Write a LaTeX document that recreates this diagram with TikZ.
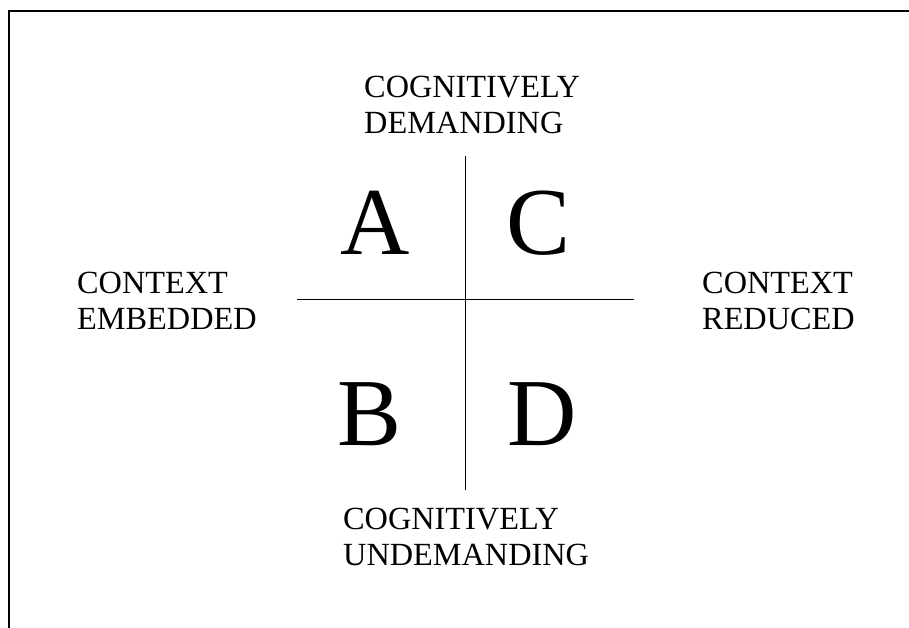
\documentclass[tikz,border=0pt]{standalone}
\usepackage{fontspec}
\setmainfont{Liberation Serif}
\usepackage{tikz}
\usetikzlibrary{positioning}

\begin{document}
\begin{tikzpicture}[
  x=1pt, y=-1pt,
  label/.style={font=\fontsize{32.3}{36}\selectfont, align=left, anchor=base west, inner sep=0pt},
  quad/.style={font=\fontsize{96}{100}\selectfont, anchor=base, inner sep=0pt},
  axis/.style={draw=black, line width=1pt},
  frame/.style={draw=black, line width=1.8pt}
]
\useasboundingbox (0,0) rectangle (909,628);
\draw[frame] (9,628) -- (9,11) -- (909,11);
\coordinate (top) at (465,156);
\coordinate (bot) at (465,490);
\coordinate (lft) at (297,299);
\coordinate (rgt) at (634,299);
\draw[axis] (top) -- (bot);
\draw[axis] (lft) -- (rgt);
\node[quad] (qa) at (375,254) {A};
\node[quad] (qc) at (539,254) {C};
\node[quad] (qb) at (370,445) {B};
\node[quad] (qd) at (542,445) {D};
% base of a two-line label sits on its last line
\node[label] (demand) at (364,134) {COGNITIVELY\\DEMANDING};
\node[label] (embed) at (77,329) {CONTEXT\\EMBEDDED};
\node[label] (reduce) at (702,329) {CONTEXT\\REDUCED};
\node[label] (undemand) at (343,565) {COGNITIVELY\\UNDEMANDING};
\end{tikzpicture}
\end{document}
